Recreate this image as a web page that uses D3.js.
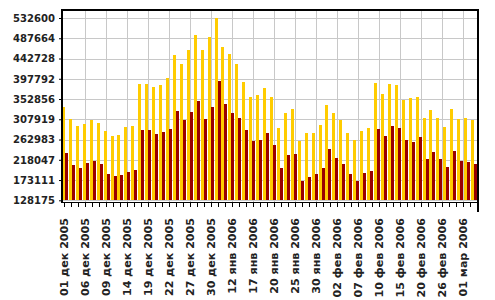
<!DOCTYPE html>
<html>
<head>
<meta charset="utf-8">
<script src="https://cdn.jsdelivr.net/npm/d3@7/dist/d3.min.js"></script>
<style>
  body { margin: 0; background: #fff; }
  svg { display: block; }
  .axis text { font-family: "DejaVu Sans", Verdana, sans-serif; font-size: 10px; font-weight: bold; fill: #222; }
  .axis line { stroke: #000; }
  .grid line { stroke: #c8c8c8; stroke-width: 1; }
  .frame { stroke: #000; stroke-width: 1.5; fill: none; }
</style>
</head>
<body>
<div id="chart"></div>
<script>
// working days, dec 2005 - mar 2006
var dates = [
  "01 дек 2005", "02 дек 2005", "05 дек 2005", "06 дек 2005", "07 дек 2005", "08 дек 2005",
  "09 дек 2005", "12 дек 2005", "13 дек 2005", "14 дек 2005", "15 дек 2005", "16 дек 2005",
  "19 дек 2005", "20 дек 2005", "21 дек 2005", "22 дек 2005", "23 дек 2005", "26 дек 2005",
  "27 дек 2005", "28 дек 2005", "29 дек 2005", "30 дек 2005", "10 янв 2006", "11 янв 2006",
  "12 янв 2006", "13 янв 2006", "16 янв 2006", "17 янв 2006", "18 янв 2006", "19 янв 2006",
  "20 янв 2006", "23 янв 2006", "24 янв 2006", "25 янв 2006", "26 янв 2006", "27 янв 2006",
  "30 янв 2006", "31 янв 2006", "01 фев 2006", "02 фев 2006", "03 фев 2006", "06 фев 2006",
  "07 фев 2006", "08 фев 2006", "09 фев 2006", "10 фев 2006", "13 фев 2006", "14 фев 2006",
  "15 фев 2006", "16 фев 2006", "17 фев 2006", "20 фев 2006", "21 фев 2006", "22 фев 2006",
  "26 фев 2006", "27 фев 2006", "28 фев 2006", "01 мар 2006", "02 мар 2006", "03 мар 2006"
];

var seriesA = [
  335000, 309000, 294000, 297000, 307000, 300000, 282000, 271000, 273000, 291000,
  294000, 387000, 386500, 380000, 384000, 399500, 450500, 430500, 461500, 495000,
  461500, 490500, 532600, 468000, 452500, 430500, 390500, 357500, 362000, 377500,
  357500, 288500, 322000, 330500, 260000, 277500, 277500, 295000, 339500, 322000,
  306500, 277500, 262000, 282000, 288500, 388500, 364000, 386000, 384000, 351500,
  355000, 357500, 311000, 328500, 311000, 291000, 330500, 308500, 311000, 306500
];

var seriesB = [
  234000, 207000, 200000, 212000, 216000, 209000, 187000, 183000, 185000, 192000,
  196000, 285000, 285000, 276000, 280000, 286500, 326000, 306000, 324000, 348500,
  308500, 335000, 393000, 342000, 322000, 311000, 284000, 260000, 262000, 277500,
  251000, 200000, 228500, 231000, 171000, 180000, 186500, 200000, 242000, 222000,
  208500, 186500, 171000, 188500, 193000, 286500, 271000, 293000, 288500, 262000,
  257500, 268500, 220000, 235500, 220000, 202000, 237500, 215500, 213000, 208500
];

var yTicks = [128175, 173111, 218047, 262983, 307919, 352856, 397792, 442728, 487664, 532600];

var WIDTH = 495, HEIGHT = 300;
var PLOT = { left: 62, right: 478, top: 10, bottom: 200.3, axis: 202.5 };

var svg = d3.select("#chart").append("svg")
  .attr("width", WIDTH)
  .attr("height", HEIGHT);

var y = d3.scaleLinear().domain([128175, 532600]).range([PLOT.bottom, 18]);
var x = d3.scaleBand().domain(dates).range([PLOT.left, PLOT.right]).paddingInner(0).paddingOuter(0);
var xTick = d3.scalePoint().domain(dates).range([64, 477]);
var xSub = d3.scaleBand().domain(["a", "b"]).range([0, 6]);

// grid
var grid = svg.append("g").attr("class", "grid").attr("shape-rendering", "crispEdges");
grid.selectAll("line.h").data(yTicks).enter().append("line")
  .attr("class", "h")
  .attr("x1", PLOT.left).attr("x2", PLOT.right)
  .attr("y1", function(d) { return Math.round(y(d)) + 0.5; })
  .attr("y2", function(d) { return Math.round(y(d)) + 0.5; });
grid.selectAll("line.v").data(dates.filter(function(d, i) { return i > 0 && i % 3 === 0; })).enter().append("line")
  .attr("class", "v")
  .attr("x1", function(d) { return Math.round(xTick(d)) + 0.5; })
  .attr("x2", function(d) { return Math.round(xTick(d)) + 0.5; })
  .attr("y1", PLOT.top).attr("y2", PLOT.axis);

// bars
var groups = svg.append("g").attr("shape-rendering", "crispEdges")
  .selectAll("g").data(dates).enter().append("g")
  .attr("transform", function(d) { return "translate(" + Math.round(x(d)) + ",0)"; });

groups.append("rect")
  .attr("x", xSub("a"))
  .attr("width", xSub.bandwidth())
  .attr("y", function(d, i) { return y(seriesA[i]); })
  .attr("height", function(d, i) { return y(128175) - y(seriesA[i]); })
  .attr("fill", "#ffcc00");

groups.append("rect")
  .attr("x", xSub("b"))
  .attr("width", xSub.bandwidth())
  .attr("y", function(d, i) { return y(seriesB[i]); })
  .attr("height", function(d, i) { return y(128175) - y(seriesB[i]); })
  .attr("fill", "#990000");

// axes
var yAxis = d3.axisLeft(y).tickValues(yTicks).tickSize(3).tickPadding(4).tickFormat(d3.format("d"));
var gy = svg.append("g").attr("class", "axis y")
  .attr("transform", "translate(" + PLOT.left + ",0)")
  .call(yAxis)
  .call(function(g) { g.select(".domain").remove(); });

var xAxis = d3.axisBottom(xTick).tickSize(4).tickFormat(function(d, i) { return i % 3 ? "" : d; });
var gx = svg.append("g").attr("class", "axis x")
  .attr("shape-rendering", "crispEdges")
  .attr("transform", "translate(0," + PLOT.axis + ")")
  .call(xAxis)
  .call(function(g) { g.select(".domain").remove(); });

gx.selectAll("text")
  .attr("transform", "rotate(-90)")
  .attr("text-anchor", "end")
  .attr("x", -15.5)
  .attr("y", 0)
  .attr("dy", "0.35em");

// size the label fonts to the widths in the original
function fitFont(sel, target) {
  var node = sel.filter(function(d) { return this.textContent.length > 0; }).node();
  var w = node.getComputedTextLength();
  sel.style("font-size", (10 * target / w) + "px");
}
fitFont(gy.selectAll("text"), 42);
fitFont(gx.selectAll("text"), 78);

// frame
svg.append("path").attr("class", "frame")
  .attr("shape-rendering", "crispEdges")
  .attr("d", "M" + PLOT.left + "," + PLOT.axis + "V" + PLOT.top + "H" + PLOT.right + "V212"
    + "M" + PLOT.left + "," + PLOT.axis + "H" + PLOT.right);
</script>
</body>
</html>
